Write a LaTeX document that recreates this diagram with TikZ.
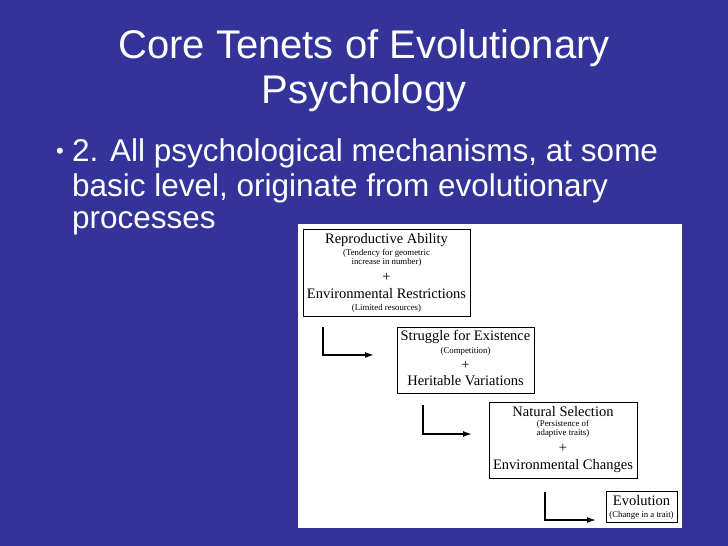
\documentclass[tikz,border=0pt]{standalone}
\usepackage{fontspec}
\usetikzlibrary{arrows.meta}
\setmainfont{Liberation Sans}
\newfontfamily\serifd{Liberation Serif}
\definecolor{slidebg}{HTML}{333399}
\begin{document}
\begin{tikzpicture}[x=1pt,y=-1pt,
  ttl/.style={text=white,font=\fontsize{40}{44}\selectfont,anchor=center},
  bul/.style={text=white,font=\fontsize{31.5}{35}\selectfont,anchor=west,inner sep=0pt},
  box/.style={draw=black,line width=0.8pt,fill=white,inner sep=0pt},
  hd/.style={font=\serifd\fontsize{14.5}{16}\selectfont,text=black},
  sm/.style={font=\serifd\fontsize{8.8}{9.5}\selectfont,text=black,align=center},
  arr/.style={line width=1.5pt,-{Latex[length=9pt,width=6pt]}}]
\fill[slidebg] (0,0) rectangle (728,546);
\useasboundingbox (0,0) rectangle (728,546);
\node[ttl] (t1) at (364,48) {Core Tenets of Evolutionary};
\node[ttl] (t2) at (364,93) {Psychology};
\node[text=white,font=\fontsize{22}{22}\selectfont] (b) at (60,153) {•};
\node[bul] (l1) at (72,153) {2. All psychological mechanisms, at some};
\node[bul] (l2) at (72,188) {basic level, originate from evolutionary};
\node[bul] (l3) at (72,223) {processes};
\fill[white] (298,224) rectangle (682,528);
% boxes
\draw[box] (303,229) rectangle (470,316);
\node[hd] (a1) at (386.5,240) {Reproductive Ability};
\node[sm] (a2) at (386.5,258) {(Tendency for geometric\\increase in number)};
\node[hd] (a3) at (386.5,277) {+};
\node[hd] (a4) at (386.5,294) {Environmental Restrictions};
\node[sm] (a5) at (386.5,308) {(Limited resources)};
\draw[box] (397,327) rectangle (534,393);
\node[hd] (c1) at (465.5,337) {Struggle for Existence};
\node[sm] (c2) at (465.5,351) {(Competition)};
\node[hd] (c3) at (465.5,365) {+};
\node[hd] (c4) at (465.5,381) {Heritable Variations};
\draw[box] (489,402) rectangle (637,478);
\node[hd] (d1) at (563,412) {Natural Selection};
\node[sm] (d2) at (563,429) {(Persistence of\\adaptive traits)};
\node[hd] (d3) at (563,448) {+};
\node[hd] (d4) at (563,466) {Environmental Changes};
\draw[box] (606,491) rectangle (677,522);
\node[hd] (e1) at (641.5,501) {Evolution};
\node[sm] (e2) at (641.5,515) {(Change in a trait)};
% arrows
\coordinate (p1) at (323,327); \coordinate (q1) at (374,355);
\coordinate (p2) at (423,405); \coordinate (q2) at (472,434);
\coordinate (p3) at (545,492); \coordinate (q3) at (596,520);
\draw[arr] (p1) |- (q1);
\draw[arr] (p2) |- (q2);
\draw[arr] (p3) |- (q3);
\end{tikzpicture}
\end{document}
